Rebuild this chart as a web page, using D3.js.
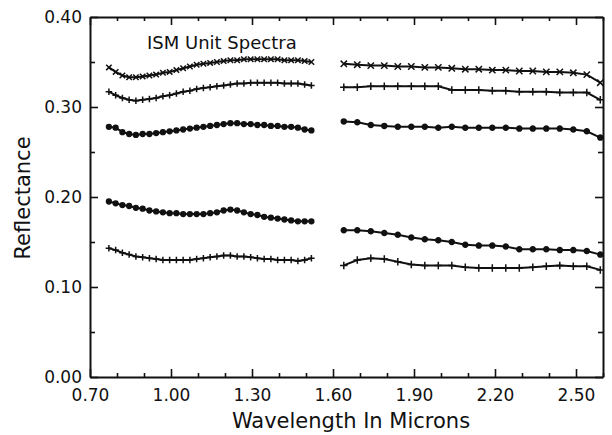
<!doctype html>
<html>
<head>
  <title>ISM Unit Spectra</title>
  <script src="https://d3js.org/d3.v7.min.js"></script>
  <style>
  body {
    margin: 0;
    background: #fff;
  }

  svg {
    font-family: "DejaVu Sans", sans-serif;
  }

  .axis path,
  .axis line {
    stroke: #111;
  }

  .axis path {
    stroke-width: 2;
  }

  .axis line {
    stroke-width: 1.6;
  }

  .axis text {
    font-size: 17px;
    fill: #111;
    font-family: "DejaVu Sans", sans-serif;
  }

  .minor path {
    display: none;
  }

  .spectrum {
    fill: none;
    stroke: #111;
    stroke-width: 2;
  }
  </style>
</head>
<body>
  <script>
    // wavelengths of the two ISM spectrometer orders (microns)
    var wlShort = [0.770, 0.795, 0.820, 0.845, 0.870, 0.895, 0.920, 0.945, 0.970, 0.995,
                   1.020, 1.045, 1.070, 1.095, 1.120, 1.145, 1.170, 1.195, 1.220, 1.245,
                   1.270, 1.295, 1.320, 1.345, 1.370, 1.395, 1.420, 1.445, 1.470, 1.495, 1.520];
    var wlLong = [1.64, 1.69, 1.74, 1.79, 1.84, 1.89, 1.94, 1.99, 2.04, 2.09,
                  2.14, 2.19, 2.24, 2.29, 2.34, 2.39, 2.44, 2.49, 2.54, 2.59];

    // reflectance per unit, short then long order
    var unit1Short = [0.344, 0.339, 0.335, 0.333, 0.333, 0.334, 0.335, 0.336, 0.338, 0.339,
                      0.341, 0.343, 0.345, 0.347, 0.348, 0.349, 0.350, 0.351, 0.352, 0.352,
                      0.353, 0.353, 0.353, 0.353, 0.353, 0.353, 0.352, 0.352, 0.352, 0.351, 0.350];
    var unit1Long = [0.348, 0.347, 0.346, 0.346, 0.345, 0.345, 0.344, 0.344, 0.343, 0.342,
                     0.342, 0.341, 0.341, 0.340, 0.340, 0.339, 0.339, 0.338, 0.336, 0.327];

    var unit2Short = [0.317, 0.313, 0.310, 0.308, 0.307, 0.308, 0.309, 0.310, 0.312, 0.313,
                      0.315, 0.317, 0.318, 0.320, 0.321, 0.322, 0.323, 0.324, 0.325, 0.326,
                      0.326, 0.327, 0.327, 0.327, 0.327, 0.327, 0.326, 0.326, 0.326, 0.325, 0.324];
    var unit2Long = [0.322, 0.322, 0.323, 0.323, 0.323, 0.323, 0.323, 0.323, 0.319, 0.319,
                     0.319, 0.318, 0.318, 0.317, 0.317, 0.317, 0.316, 0.316, 0.316, 0.308];

    var unit3Short = [0.278, 0.277, 0.272, 0.270, 0.269, 0.270, 0.270, 0.271, 0.272, 0.273,
                      0.274, 0.275, 0.276, 0.277, 0.278, 0.279, 0.280, 0.281, 0.282, 0.282,
                      0.281, 0.281, 0.280, 0.280, 0.279, 0.279, 0.278, 0.278, 0.277, 0.275, 0.274];
    var unit3Long = [0.284, 0.283, 0.280, 0.279, 0.278, 0.278, 0.278, 0.277, 0.278, 0.277,
                     0.277, 0.277, 0.277, 0.276, 0.276, 0.276, 0.276, 0.275, 0.273, 0.266];

    var unit4Short = [0.195, 0.193, 0.191, 0.190, 0.188, 0.187, 0.185, 0.184, 0.183, 0.182,
                      0.182, 0.181, 0.181, 0.181, 0.181, 0.182, 0.183, 0.185, 0.186, 0.185,
                      0.183, 0.181, 0.180, 0.178, 0.177, 0.176, 0.175, 0.174, 0.173, 0.173, 0.173];
    var unit4Long = [0.163, 0.163, 0.162, 0.160, 0.158, 0.155, 0.153, 0.152, 0.150, 0.147,
                     0.146, 0.146, 0.145, 0.142, 0.142, 0.142, 0.141, 0.141, 0.140, 0.136];

    var unit5Short = [0.143, 0.141, 0.138, 0.136, 0.134, 0.133, 0.132, 0.131, 0.130, 0.130,
                      0.130, 0.130, 0.130, 0.131, 0.132, 0.133, 0.134, 0.135, 0.135, 0.134,
                      0.134, 0.133, 0.132, 0.131, 0.131, 0.130, 0.130, 0.130, 0.129, 0.130, 0.132];
    var unit5Long = [0.124, 0.130, 0.132, 0.131, 0.128, 0.125, 0.124, 0.124, 0.124, 0.122,
                     0.121, 0.121, 0.121, 0.121, 0.122, 0.123, 0.124, 0.123, 0.123, 0.119];

    var markerKinds = ["x", "plus", "dot", "dot", "plus"];

    var xTicks = [0.70, 1.00, 1.30, 1.60, 1.90, 2.20, 2.50];
    var xMinorTicks = [0.80, 0.90, 1.10, 1.20, 1.40, 1.50, 1.70, 1.80, 2.00, 2.10, 2.30, 2.40, 2.60];
    var yTicks = [0.00, 0.10, 0.20, 0.30, 0.40];
    var yMinorTicks = [0.05, 0.15, 0.25, 0.35];

    var width = 612,
        height = 435;

    var x = d3.scaleLinear()
        .domain([0.7, 2.6])
        .range([90, 603]);

    var y = d3.scaleLinear()
        .domain([0, 0.4])
        .range([377, 17]);

    var svg = d3.select("body").append("svg")
        .attr("width", width)
        .attr("height", height);

    var fmt = d3.format(".2f");

    // major axes, ticks pointing into the plot
    svg.append("g")
        .attr("class", "axis")
        .attr("transform", "translate(0," + y(0) + ")")
        .call(d3.axisBottom(x).tickValues(xTicks).tickFormat(fmt)
          .tickSizeInner(-8).tickSizeOuter(0).tickPadding(12));

    svg.append("g")
        .attr("class", "axis")
        .attr("transform", "translate(0," + y(0.4) + ")")
        .call(d3.axisTop(x).tickValues(xTicks).tickFormat("")
          .tickSizeInner(-8).tickSizeOuter(0));

    svg.append("g")
        .attr("class", "axis")
        .attr("transform", "translate(" + x(0.7) + ",0)")
        .call(d3.axisLeft(y).tickValues(yTicks).tickFormat(fmt)
          .tickSizeInner(-8).tickSizeOuter(0).tickPadding(8));

    svg.append("g")
        .attr("class", "axis")
        .attr("transform", "translate(" + x(2.6) + ",0)")
        .call(d3.axisRight(y).tickValues(yTicks).tickFormat("")
          .tickSizeInner(-8).tickSizeOuter(0));

    // minor ticks
    svg.append("g")
        .attr("class", "axis minor")
        .attr("transform", "translate(0," + y(0) + ")")
        .call(d3.axisBottom(x).tickValues(xMinorTicks).tickFormat("").tickSize(-4));
    svg.append("g")
        .attr("class", "axis minor")
        .attr("transform", "translate(0," + y(0.4) + ")")
        .call(d3.axisTop(x).tickValues(xMinorTicks).tickFormat("").tickSize(-4));
    svg.append("g")
        .attr("class", "axis minor")
        .attr("transform", "translate(" + x(0.7) + ",0)")
        .call(d3.axisLeft(y).tickValues(yMinorTicks).tickFormat("").tickSize(-5));
    svg.append("g")
        .attr("class", "axis minor")
        .attr("transform", "translate(" + x(2.6) + ",0)")
        .call(d3.axisRight(y).tickValues(yMinorTicks).tickFormat("").tickSize(-5));

    // custom thin marker shapes
    var plusType = {
      draw: function(ctx, size) {
        var r = Math.sqrt(size) / 2;
        ctx.moveTo(-r, 0); ctx.lineTo(r, 0);
        ctx.moveTo(0, -r); ctx.lineTo(0, r);
      }
    };
    var crossType = {
      draw: function(ctx, size) {
        var r = Math.sqrt(size) / 2;
        ctx.moveTo(-r, -r); ctx.lineTo(r, r);
        ctx.moveTo(-r, r); ctx.lineTo(r, -r);
      }
    };

    var series = [
      [unit1Short, unit1Long],
      [unit2Short, unit2Long],
      [unit3Short, unit3Long],
      [unit4Short, unit4Long],
      [unit5Short, unit5Long]
    ];

    var line = d3.line()
        .x(function(d) { return x(d.w); })
        .y(function(d) { return y(d.r); });

    series.forEach(function(s, i) {
      var kind = markerKinds[i];
      [wlShort, wlLong].forEach(function(wl, k) {
        var pts = wl.map(function(w, j) { return {w: w, r: s[k][j]}; });

        svg.append("path")
            .datum(pts)
            .attr("class", "spectrum")
            .attr("stroke-width", kind === "dot" && k === 0 ? 4.5 : 2)
            .attr("d", line);

        var sym = kind === "dot" ? d3.symbol().type(d3.symbolCircle).size(k === 0 ? 18 : 20)
                : kind === "plus" ? d3.symbol().type(plusType).size(k === 0 ? 42 : 56)
                : d3.symbol().type(crossType).size(k === 0 ? 30 : 40);

        svg.append("g").selectAll("path")
            .data(pts)
          .join("path")
            .attr("transform", function(d) { return "translate(" + x(d.w) + "," + y(d.r) + ")"; })
            .attr("d", sym)
            .attr("fill", kind === "dot" ? "#111" : "none")
            .attr("stroke", "#111")
            .attr("stroke-width", 1.5);
      });
    });

    svg.append("text")
        .attr("x", 147)
        .attr("y", 49)
        .style("font-size", "18px")
        .attr("fill", "#111")
        .text("ISM Unit Spectra");

    svg.append("text")
        .attr("x", 351)
        .attr("y", 428)
        .attr("text-anchor", "middle")
        .style("font-size", "21px")
        .attr("fill", "#111")
        .text("Wavelength In Microns");

    svg.append("text")
        .attr("transform", "translate(30,198) rotate(-90)")
        .attr("text-anchor", "middle")
        .style("font-size", "21px")
        .attr("fill", "#111")
        .text("Reflectance");
  </script>
</body>
</html>
